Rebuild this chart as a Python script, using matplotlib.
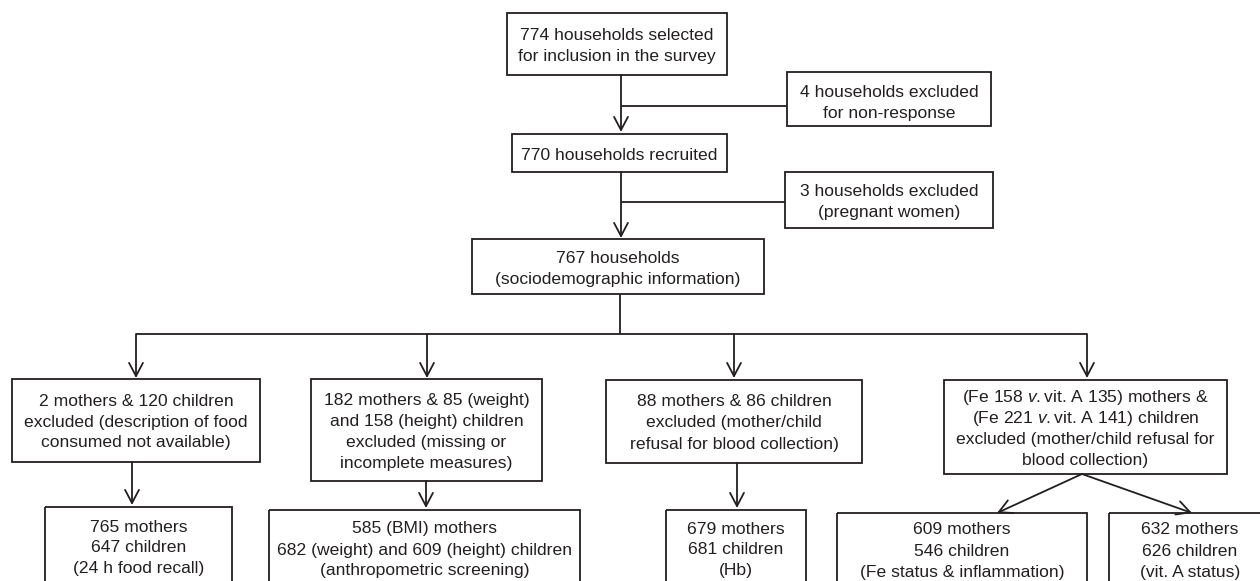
import matplotlib.pyplot as plt
from matplotlib.patches import Rectangle

plt.rcParams['font.family'] = ['Liberation Sans', 'DejaVu Sans']
plt.rcParams['mathtext.fontset'] = 'custom'
plt.rcParams['mathtext.rm'] = 'Liberation Sans'
plt.rcParams['mathtext.it'] = 'Liberation Sans:italic'

# box labels of the flow diagram
labels = {
    'selected': '774 households selected\nfor inclusion in the survey',
    'nonresp': '4 households excluded\nfor non-response',
    'recruited': '770 households recruited',
    'pregnant': '3 households excluded\n(pregnant women)',
    'info': '767 households\n(sociodemographic information)',
    'ex_food': '2 mothers & 120 children\nexcluded (description of food\nconsumed not available)',
    'ex_anthro': '182 mothers & 85 (weight)\nand 158 (height) children\nexcluded (missing or\nincomplete measures)',
    'ex_hb': '88 mothers & 86 children\nexcluded (mother/child\nrefusal for blood collection)',
    'ex_blood': '(Fe 158 $\\mathit{v.}$vit. A 135) mothers &\n(Fe 221 $\\mathit{v.}$vit. A 141) children\n'
                'excluded (mother/child refusal for\nblood collection)',
    'food': '765 mothers\n647 children\n(24 h food recall)',
    'anthro': '585 (BMI) mothers\n682 (weight) and 609 (height) children\n(anthropometric screening)',
    'hb': '679 mothers\n681 children\n(Hb)',
    'fe': '609 mothers\n546 children\n(Fe status & inflammation)',
    'vita': '632 mothers\n626 children\n(vit. A status)',
}

# layout in pixels: x0, y0, x1, y1, text centre y
boxes = {
    'selected': (507, 13, 727, 75, 44),
    'nonresp': (787, 72, 991, 126, 101),
    'recruited': (512, 134, 727, 172, 153),
    'pregnant': (785, 172, 993, 228, 200),
    'info': (472, 239, 764, 294, 267),
    'ex_food': (12, 379, 260, 462, 420),
    'ex_anthro': (311, 379, 542, 481, 430),
    'ex_hb': (606, 380, 862, 463, 421),
    'ex_blood': (944, 380, 1227, 474, 427),
    'food': (45, 507, 232, 620, 546),
    'anthro': (269, 510, 580, 620, 548),
    'hb': (666, 510, 806, 620, 548),
    'fe': (837, 513, 1087, 620, 549),
    'vita': (1109, 513, 1271, 620, 549),
}

ink = '#231f20'
lw = 1.3
pitch = 21

fig = plt.figure(figsize=(12.6, 5.81), dpi=100)
ax = fig.add_axes([0, 0, 1, 1])
ax.set_xlim(0, 1260)
ax.set_ylim(581, 0)
ax.axis('off')

for key, (x0, y0, x1, y1, ty) in boxes.items():
    ax.add_patch(Rectangle((x0, y0), x1 - x0, y1 - y0, fill=False,
                           edgecolor=ink, linewidth=lw))
    rows = labels[key].split('\n')
    for i, row in enumerate(rows):
        yc = ty + (i - (len(rows) - 1) / 2) * pitch
        ax.text((x0 + x1) / 2, yc + 6.5, row, ha='center', va='baseline',
                fontsize=12.6, color=ink)


def arrow(x0, y0, x1, y1):
    ax.annotate('', xy=(x1, y1), xytext=(x0, y0),
                arrowprops=dict(arrowstyle='->,head_length=0.95,head_width=0.5',
                                color=ink, lw=lw, shrinkA=0, shrinkB=0,
                                mutation_scale=10))


def line(xs, ys):
    ax.plot(xs, ys, color=ink, lw=lw, solid_capstyle='butt')


# main trunk
arrow(621, 75, 621, 132)
line([621, 787], [106, 106])
arrow(621, 172, 621, 238)
line([621, 785], [202, 202])
line([620, 620], [294, 334])

# branches
branch_x = [136, 427, 734, 1087]
line([branch_x[0], branch_x[-1]], [334, 334])
for bx in branch_x:
    arrow(bx, 334, bx, 378)

arrow(132, 462, 132, 505)
arrow(426, 481, 426, 508)
arrow(737, 463, 737, 508)
arrow(1082, 474, 997, 513)
arrow(1082, 474, 1192, 513)

fig.savefig('out.png', dpi=100)
